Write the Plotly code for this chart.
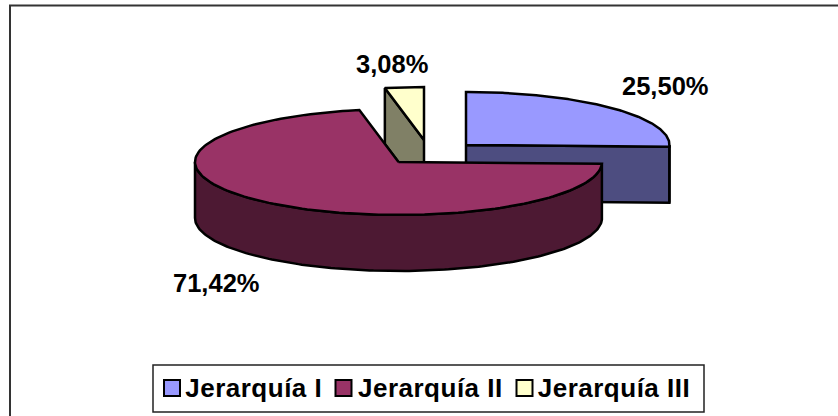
import numpy as np
import plotly.graph_objects as go

categories = ["Jerarquía I", "Jerarquía II", "Jerarquía III"]
values = [25.50, 71.42, 3.08]
labels = ["25,50%", "71,42%", "3,08%"]
top_colors = ["#9999FF", "#993366", "#FFFFCC"]
side_colors = ["#4D4D80", "#4D1933", "#808066"]

W, H = 838, 416
RX, RY, DEPTH = 203.5, 53.0, 56.0
centers = [(466.0, 145.0), (398.5, 162.0), (424.0, 140.0)]
label_pos = [(665.5, 86), (216, 283), (392, 64)]
legend_box = (153, 365, 704, 412)
legend_swatch_x = [172, 343.5, 524.5]
legend_text_x = [254, 430, 614]
legend_y = 388


def pt(c, deg):
    t = np.radians(deg)
    return c[0] + RX * np.sin(t), c[1] - RY * np.cos(t)


def arc(c, a, b, n=160):
    d = np.linspace(a, b, n)
    return pt(c, d)


total = sum(values)
edges = np.concatenate([[0.0], np.cumsum(values) / total * 360.0])

fig = go.Figure()


def poly(xs, ys, color):
    fig.add_trace(go.Scatter(
        x=list(xs) + [xs[0]], y=list(ys) + [ys[0]], mode="lines", fill="toself",
        fillcolor=color, line=dict(color="#000000", width=2.5),
        showlegend=False, hoverinfo="skip"))


def wall(c, a, b, color):
    x, y = arc(c, a, b)
    poly(np.r_[x, x[::-1]], np.r_[y, y[::-1] + DEPTH], color)


def cut(c, a, color):
    x, y = pt(c, a)
    poly([c[0], x, x, c[0]], [c[1], y, y + DEPTH, c[1] + DEPTH], color)


def top(c, a, b, color):
    x, y = arc(c, a, b)
    poly(np.r_[c[0], x], np.r_[c[1], y], color)


# Back slice (III): cut wall on its left, top surface
a, b = edges[2], edges[3]
cut(centers[2], a, side_colors[2])
top(centers[2], a, b, top_colors[2])

# Slice I: flat cut wall at its end, outer wall, top surface
a, b = edges[0], edges[1]
cut(centers[0], b, side_colors[0])
wall(centers[0], 90.0, b, side_colors[0])
top(centers[0], a, b, top_colors[0])

# Slice II in front
a, b = edges[1], edges[2]
wall(centers[1], a, 270.0, side_colors[1])
top(centers[1], a, b, top_colors[1])

# Percentage labels
for txt, (x, y) in zip(labels, label_pos):
    fig.add_annotation(x=x, y=y, text=f"<b>{txt}</b>", showarrow=False,
                       font=dict(family="Liberation Sans", size=25.5, color="#000000"))

# Legend: frame, swatches and names
x0, y0, x1, y1 = legend_box
fig.add_shape(type="rect", x0=x0, y0=y0, x1=x1, y1=y1,
              line=dict(color="#222222", width=1.5), fillcolor="#FFFFFF", layer="below")
for name, col, sx, tx in zip(categories, top_colors, legend_swatch_x, legend_text_x):
    fig.add_trace(go.Scatter(
        x=[sx], y=[legend_y], mode="markers", name=name, showlegend=False, hoverinfo="skip",
        marker=dict(symbol="square", size=16, color=col,
                    line=dict(color="#000000", width=2))))
    fig.add_annotation(x=tx, y=legend_y, text=f"<b>{name}</b>", showarrow=False,
                       font=dict(family="Liberation Sans", size=26, color="#000000"))

fig.add_shape(type="path", path=f"M 10 {H} L 10 5.5 L {W} 5.5",
              line=dict(color="#333333", width=2))

fig.update_layout(
    width=W, height=H, margin=dict(l=0, r=0, t=0, b=0),
    paper_bgcolor="#FFFFFF", plot_bgcolor="#FFFFFF",
    xaxis=dict(range=[0, W], visible=False, fixedrange=True),
    yaxis=dict(range=[H, 0], visible=False, fixedrange=True),
    showlegend=False,
)

post = """
document.body.style.margin='0';
document.documentElement.style.overflow='hidden';
document.querySelectorAll('.annotation-text').forEach(function(t){
  if (t.textContent.indexOf('Jerarqu') === 0) { t.style.letterSpacing = '0.5px'; }
});
"""
fig.write_html("out.html", config=dict(displayModeBar=False), post_script=post)
